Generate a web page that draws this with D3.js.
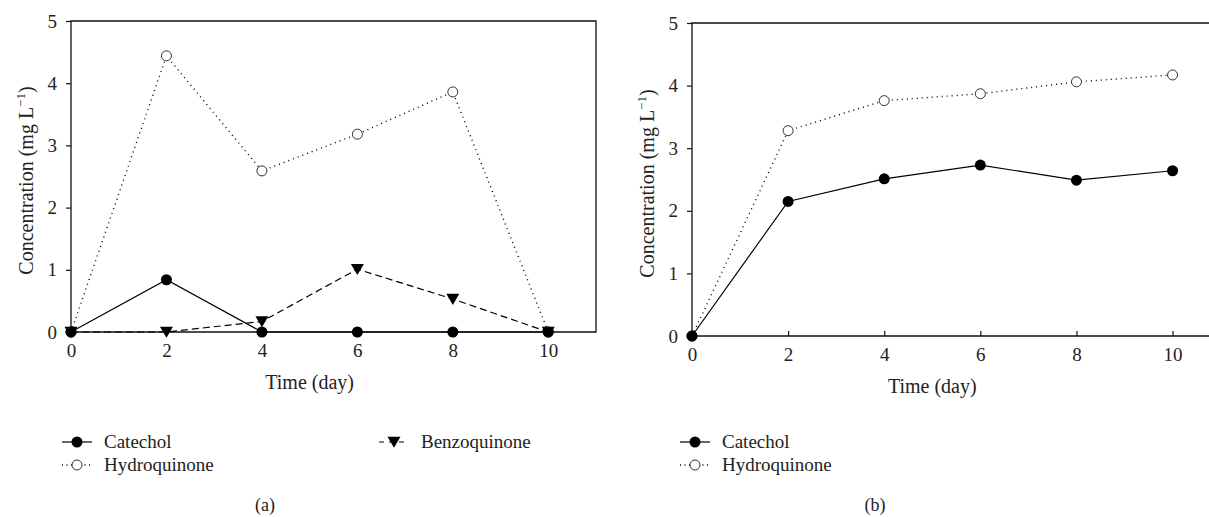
<!DOCTYPE html>
<html>

<head>
    <title>Concentration panels</title>
    <script src="https://d3js.org/d3.v7.min.js"></script>
    <style>
        body { margin: 0; background: #fff; }
        text { font-family: "Liberation Serif", "DejaVu Serif", serif; fill: #222; }
    </style>
</head>

<body>
    <script>
        // data
        var days = [0, 2, 4, 6, 8, 10];
        var xTicks = [0, 2, 4, 6, 8, 10];
        var yTicks = [0, 1, 2, 3, 4, 5];

        var catecholA = [0, 0.84, 0, 0, 0, 0];
        var hydroquinoneA = [0, 4.44, 2.59, 3.18, 3.86, 0];
        var benzoquinoneA = [0, 0, 0.17, 1.01, 0.53, 0];

        var catecholB = [0, 2.15, 2.51, 2.73, 2.49, 2.64];
        var hydroquinoneB = [0, 3.28, 3.76, 3.87, 4.06, 4.17];

        var width = 1209, height = 517;

        var svg = d3.select("body").append("svg")
            .attr("width", width)
            .attr("height", height);

        var styles = {
            catechol: { dash: null, marker: "filled" },
            hydroquinone: { dash: "1,4", marker: "open" },
            benzoquinone: { dash: "7,4", marker: "triangle" }
        };

        function drawMarker(g, kind, x, y) {
            if (kind === "filled") {
                g.append("circle").attr("cx", x).attr("cy", y).attr("r", 5.5).style("fill", "#000");
            } else if (kind === "open") {
                g.append("circle").attr("cx", x).attr("cy", y).attr("r", 5)
                    .style("fill", "#fff").style("stroke", "#333").style("stroke-width", 1);
            } else {
                var s = 6.5;
                g.append("path")
                    .attr("d", `M${x - s},${y - s * 0.8}L${x + s},${y - s * 0.8}L${x},${y + s * 0.9}Z`)
                    .style("fill", "#000");
            }
        }

        function drawPanel(p) {
            var x = d3.scaleLinear().domain([0, p.xMax]).range([p.left, p.right]);
            var y = d3.scaleLinear().domain([0, 5]).range([p.bottom, p.top]);
            var g = svg.append("g");

            // frame
            g.append("path")
                .attr("d", `M${p.left},${p.bottom}L${p.left},${p.top}L${p.right},${p.top}L${p.right},${p.bottom}Z`)
                .style("fill", "none").style("stroke", "#111").style("stroke-width", 1.3);

            var yAxis = g.append("g")
                .attr("transform", `translate(${p.left},0)`)
                .call(d3.axisLeft(y).tickValues(yTicks).tickSize(5).tickPadding(9).tickFormat(d3.format("d")));
            var xAxis = g.append("g")
                .attr("transform", `translate(0,${p.bottom})`)
                .call(d3.axisBottom(x).tickValues(xTicks).tickSize(-5).tickPadding(12).tickFormat(d3.format("d")));
            [xAxis, yAxis].forEach(a => {
                a.select(".domain").remove();
                a.selectAll("line").style("stroke", "#111").style("stroke-width", 1.2);
                a.selectAll("text").style("font-family", "Liberation Serif, serif").style("font-size", "19px").style("fill", "#222");
            });

            // axis titles
            var yl = g.append("text")
                .attr("transform", `translate(${p.yLabelX},${(p.top + p.bottom) / 2 + 4}) rotate(-90)`)
                .attr("text-anchor", "middle")
                .style("font-size", "20px");
            yl.append("tspan").text("Concentration (mg L");
            yl.append("tspan").text("\u22121").attr("dy", -8).style("font-size", "13px");
            yl.append("tspan").text(")").attr("dy", 8);

            g.append("text")
                .attr("x", (x(0) + x(10)) / 2).attr("y", p.bottom + 57)
                .attr("text-anchor", "middle")
                .style("font-size", "20px")
                .text("Time (day)");

            // series
            var line = d3.line().x((d, i) => x(days[i])).y(d => y(d));
            p.series.forEach(s => {
                var st = styles[s.key];
                g.append("path").datum(s.values)
                    .attr("d", line)
                    .style("fill", "none").style("stroke", "#000").style("stroke-width", st.dash === "1,4" ? 1.4 : 1.2)
                    .style("stroke-dasharray", st.dash);
            });
            p.series.forEach(s => {
                var st = styles[s.key];
                s.values.forEach((v, i) => drawMarker(g, st.marker, x(days[i]), y(v)));
            });

            // legend
            p.legend.forEach(l => {
                var st = styles[l.key];
                g.append("line")
                    .attr("x1", l.x).attr("x2", l.x + 30).attr("y1", l.y).attr("y2", l.y)
                    .style("stroke", "#000").style("stroke-width", st.dash === "1,4" ? 1.4 : 1.2)
                    .style("stroke-dasharray", st.dash === "7,4" ? "5,5" : (st.dash === "1,4" ? "1,3.5" : null));
                drawMarker(g, st.marker, l.x + 15, l.y);
                g.append("text")
                    .attr("x", l.x + 42).attr("y", l.y + 6)
                    .style("font-size", "19px")
                    .text(l.label);
            });

            g.append("text")
                .attr("x", p.captionX).attr("y", 511)
                .attr("text-anchor", "middle")
                .style("font-size", "18px")
                .text(p.caption);
        }

        drawPanel({
            left: 71, right: 596, top: 21, bottom: 332, xMax: 11, yLabelX: 33,
            series: [
                { key: "hydroquinone", values: hydroquinoneA },
                { key: "benzoquinone", values: benzoquinoneA },
                { key: "catechol", values: catecholA }
            ],
            legend: [
                { key: "catechol", label: "Catechol", x: 62, y: 442 },
                { key: "hydroquinone", label: "Hydroquinone", x: 62, y: 465 },
                { key: "benzoquinone", label: "Benzoquinone", x: 379, y: 442 }
            ],
            captionX: 265, caption: "(a)"
        });

        drawPanel({
            left: 692, right: 1211, top: 23, bottom: 336, xMax: 10.8, yLabelX: 654,
            series: [
                { key: "hydroquinone", values: hydroquinoneB },
                { key: "catechol", values: catecholB }
            ],
            legend: [
                { key: "catechol", label: "Catechol", x: 680, y: 442 },
                { key: "hydroquinone", label: "Hydroquinone", x: 680, y: 465 }
            ],
            captionX: 875, caption: "(b)"
        });
    </script>
</body>

</html>
